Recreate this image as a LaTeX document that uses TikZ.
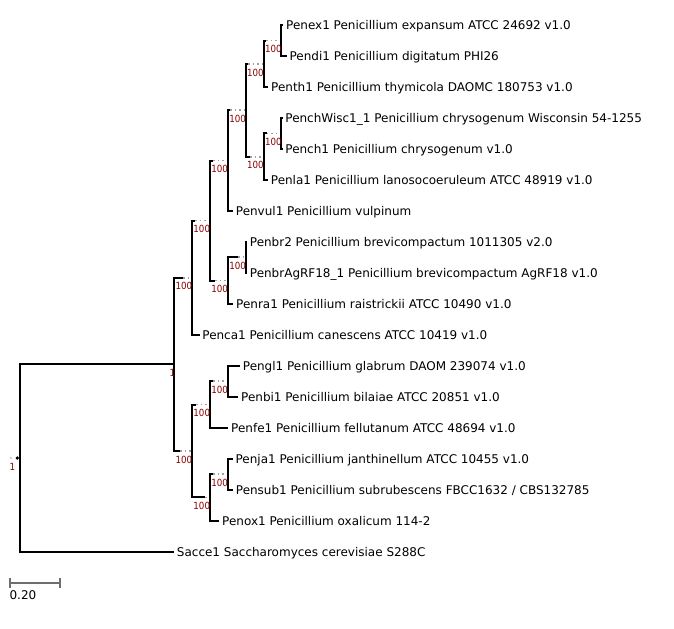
\documentclass[tikz,border=0pt]{standalone}
\usepackage{graphicx}
\usepackage{fontspec}
\setmainfont{DejaVu Sans}
\definecolor{supred}{RGB}{139,0,0}
\definecolor{dotgray}{RGB}{160,160,160}
\definecolor{bargray}{RGB}{110,110,110}
\newcommand{\suplab}[1]{\scalebox{0.88}[1]{#1}}
\begin{document}
\begin{tikzpicture}[x=0.75pt,y=-0.75pt,
  br/.style={line width=1.5pt, black, line join=miter, line cap=butt},
  dots/.style={line width=1.3pt, dotgray, dash pattern=on 1.2pt off 2.2pt},
  leaf/.style={anchor=west, inner xsep=2pt, inner ysep=0pt, text height=0.73em, text depth=0pt, font=\fontsize{9.0}{10}\selectfont},
  supp/.style={anchor=east, inner sep=0pt, text=supred, text depth=0pt, font=\fontsize{7.4}{8}\selectfont}]
\fill[white] (0,0) rectangle (674,628);
\useasboundingbox (0,0) rectangle (674,628);
% leaves
\node[leaf] (n0) at (283.3,25.0) {Penex1 Penicillium expansum ATCC 24692 v1.0};
\node[leaf] (n1) at (286.7,56.0) {Pendi1 Penicillium digitatum PHI26};
\node[leaf] (n2) at (268.3,87.0) {Penth1 Penicillium thymicola DAOMC 180753 v1.0};
\node[leaf] (n3) at (282.5,117.9) {PenchWisc1\_1 Penicillium chrysogenum Wisconsin 54-1255};
\node[leaf] (n4) at (282.5,148.9) {Pench1 Penicillium chrysogenum v1.0};
\node[leaf] (n5) at (268,179.9) {Penla1 Penicillium lanosocoeruleum ATCC 48919 v1.0};
\node[leaf] (n6) at (233,210.9) {Penvul1 Penicillium vulpinum};
\node[leaf] (n7) at (247,241.9) {Penbr2 Penicillium brevicompactum 1011305 v2.0};
\node[leaf] (n8) at (247,272.8) {PenbrAgRF18\_1 Penicillium brevicompactum AgRF18 v1.0};
\node[leaf] (n9) at (233.3,303.8) {Penra1 Penicillium raistrickii ATCC 10490 v1.0};
\node[leaf] (n10) at (199.5,334.8) {Penca1 Penicillium canescens ATCC 10419 v1.0};
\node[leaf] (n11) at (240,365.8) {Pengl1 Penicillium glabrum DAOM 239074 v1.0};
\node[leaf] (n12) at (238.3,396.8) {Penbi1 Penicillium bilaiae ATCC 20851 v1.0};
\node[leaf] (n13) at (228.3,427.7) {Penfe1 Penicillium fellutanum ATCC 48694 v1.0};
\node[leaf] (n14) at (232.7,458.7) {Penja1 Penicillium janthinellum ATCC 10455 v1.0};
\node[leaf] (n15) at (233,489.7) {Pensub1 Penicillium subrubescens FBCC1632 / CBS132785};
\node[leaf] (n16) at (219.3,520.7) {Penox1 Penicillium oxalicum 114-2};
\node[leaf] (n17) at (174,551.7) {Sacce1 Saccharomyces cerevisiae S288C};
% internal nodes and ends of the solid part of their branches
\coordinate (a) at (281.4,40.5);   \coordinate (ab) at (266,40.5);
\coordinate (b) at (263.5,63.75);  \coordinate (bb) at (248,63.75);
\coordinate (c) at (281.4,133.4);  \coordinate (cb) at (266.7,133.4);
\coordinate (d) at (263.5,156.65); \coordinate (db) at (250,156.65);
\coordinate (e) at (245.6,110.2);  \coordinate (eb) at (230,110.2);
\coordinate (f) at (227.7,160.55); \coordinate (fb) at (213.3,160.55);
\coordinate (g) at (245.6,257.35); \coordinate (gb) at (238.3,257.35);
\coordinate (m) at (227.7,280.6);  \coordinate (mb) at (215,280.6);
\coordinate (q) at (209.8,220.6);  \coordinate (qb) at (195,220.6);
\coordinate (u) at (191.9,277.7);  \coordinate (ub) at (183.3,277.7);
\coordinate (j) at (227.7,381.3);  \coordinate (jb) at (213,381.3);
\coordinate (h) at (209.8,404.5);  \coordinate (hb) at (196,404.5);
\coordinate (k) at (227.7,474.2);  \coordinate (kb) at (213,474.2);
\coordinate (i) at (209.8,497.45); \coordinate (ib) at (205,497.45);
\coordinate (l) at (191.9,450.98); \coordinate (lb) at (180,450.98);
\coordinate (p) at (174,364.34);
\coordinate (r) at (20,458.0);
\coordinate (rs) at (11,458.0);
\coordinate (rd) at (17.3,458.0);
% dotted parts
\foreach \n in {a,c,d,e,f,g,m,q,u,j,h,k,i,l,b}{\draw[dots] (\n b) -- (\n);}
\fill[dotgray] (rs) circle (0.9);
% solid branches
\draw[br] (n0.west) -| (a) |- (n1.west);
\draw[br] (ab) -| (b) |- (n2.west);
\draw[br] (n3.west) -| (c) |- (n4.west);
\draw[br] (cb) -| (d) |- (n5.west);
\draw[br] (bb) -| (e) |- (db);
\draw[br] (eb) -| (f) |- (n6.west);
\draw[br] (n7.west) -| (g) |- (n8.west);
\draw[br] (gb) -| (m) |- (n9.west);
\draw[br] (fb) -| (q) |- (mb);
\draw[br] (qb) -| (u) |- (n10.west);
\draw[br] (n11.west) -| (j) |- (n12.west);
\draw[br] (jb) -| (h) |- (n13.west);
\draw[br] (n14.west) -| (k) |- (n15.west);
\draw[br] (kb) -| (i) |- (n16.west);
\draw[br] (hb) -| (l) |- (ib);
\draw[br] (ub) -| (p) |- (lb);
\draw[br] (p) -| (r) |- (n17.west);
\fill[black] (rd) circle (1.8);
% support values
\foreach \n in {a,b,c,d,e,f,g,m,q,u,j,h,k,i,l}{\node[supp] (s\n) at ([shift={(0.5,8.6)}]\n) {\suplab{100}};}
\node[supp] (sp) at ([shift={(1.5,8.7)}]p) {\suplab{1}};
\node[supp] (sr) at (15.5,466.7) {\suplab{1}};
% scale bar
\coordinate (s1) at (10,582.7);
\coordinate (s2) at (60,582.7);
\draw[bargray, line width=1.5pt] (s1) -- (s2);
\draw[bargray, line width=1.2pt] ([yshift=-3.7pt]s1) -- ([yshift=3.7pt]s1);
\draw[bargray, line width=1.2pt] ([yshift=-3.7pt]s2) -- ([yshift=3.7pt]s2);
\node[anchor=west, inner sep=0pt, text depth=0pt, font=\fontsize{9.0}{10}\selectfont] (scl) at (9.3,595) {0.20};
\end{tikzpicture}
\end{document}
